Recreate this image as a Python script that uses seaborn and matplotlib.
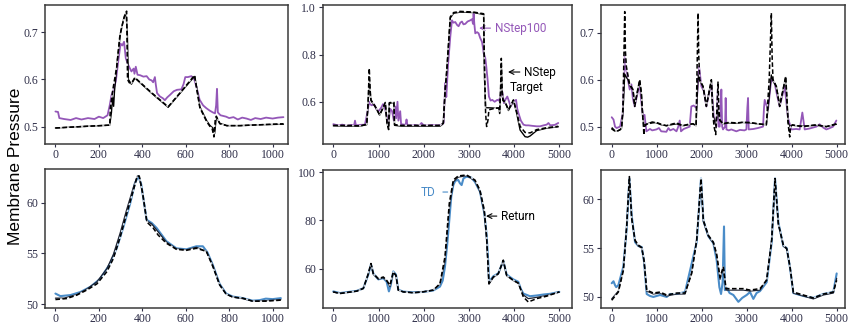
import matplotlib
matplotlib.use('Agg')
import matplotlib.pyplot as plt
import seaborn as sns

# ---- data ----
# top-left: short episode, pressure
tl_true_x = [0, 120, 250, 253, 265, 282, 296, 310, 320, 328, 332, 340, 350, 366, 440, 519, 580, 641, 651, 665, 697, 712, 722, 730, 736, 741, 757, 789, 850, 950, 1050]
tl_true_y = [0.497, 0.500, 0.503, 0.540, 0.580, 0.626, 0.690, 0.720, 0.738, 0.745, 0.600, 0.593, 0.592, 0.604, 0.573, 0.542, 0.575, 0.609, 0.578, 0.540, 0.510, 0.500, 0.495, 0.478, 0.515, 0.522, 0.506, 0.502, 0.502, 0.504, 0.506]
tl_tgt_x = [0, 120, 250, 258, 263, 268, 272, 285, 300, 315, 325, 331, 336, 350, 366, 440, 519, 580, 641, 652, 665, 697, 712, 725, 733, 741, 757, 789, 850, 950, 1050]
tl_tgt_y = [0.497, 0.500, 0.503, 0.530, 0.563, 0.543, 0.575, 0.640, 0.700, 0.730, 0.742, 0.700, 0.600, 0.590, 0.603, 0.572, 0.541, 0.574, 0.607, 0.580, 0.542, 0.512, 0.502, 0.497, 0.485, 0.520, 0.507, 0.502, 0.502, 0.504, 0.505]
tl_ns_x = [0, 12, 18, 40, 70, 95, 120, 150, 180, 200, 220, 240, 250, 258, 268, 278, 290, 300, 308, 316, 324, 336, 350, 360, 364, 370, 378, 390, 405, 420, 432, 443, 450, 458, 462, 468, 481, 495, 504, 515, 527, 545, 560, 580, 590, 598, 610, 626, 638, 649, 664, 680, 695, 710, 725, 735, 740, 744, 748, 760, 786, 800, 820, 840, 860, 880, 900, 920, 945, 970, 1000, 1025, 1050]
tl_ns_y = [0.532, 0.531, 0.518, 0.516, 0.514, 0.518, 0.515, 0.518, 0.516, 0.521, 0.518, 0.524, 0.545, 0.566, 0.580, 0.596, 0.641, 0.676, 0.672, 0.680, 0.645, 0.630, 0.617, 0.623, 0.612, 0.627, 0.610, 0.609, 0.606, 0.607, 0.600, 0.598, 0.594, 0.605, 0.590, 0.571, 0.564, 0.560, 0.556, 0.562, 0.567, 0.575, 0.578, 0.579, 0.590, 0.605, 0.605, 0.607, 0.602, 0.585, 0.557, 0.545, 0.539, 0.534, 0.530, 0.528, 0.545, 0.580, 0.530, 0.524, 0.521, 0.518, 0.520, 0.515, 0.519, 0.517, 0.514, 0.518, 0.516, 0.519, 0.517, 0.519, 0.520]

# top-middle
tm_true_x = [0, 300, 600, 740, 770, 796, 815, 833, 929, 1025, 1100, 1150, 1187, 1224, 1240, 1320, 1340, 1355, 1500, 2000, 2367, 2434, 2470, 2515, 2588, 2662, 2810, 3104, 3326, 3340, 3370, 3392, 3420, 3443, 3591, 3665, 3680, 3700, 3717, 3735, 3753, 3800, 3875, 3985, 4044, 4133, 4243, 4354, 4500, 4720, 4977]
tm_true_y = [0.500, 0.500, 0.498, 0.505, 0.600, 0.742, 0.650, 0.608, 0.580, 0.545, 0.575, 0.597, 0.512, 0.482, 0.596, 0.598, 0.598, 0.503, 0.500, 0.500, 0.500, 0.510, 0.640, 0.749, 0.960, 0.978, 0.983, 0.980, 0.973, 0.800, 0.550, 0.495, 0.520, 0.566, 0.573, 0.573, 0.560, 0.650, 0.784, 0.650, 0.608, 0.600, 0.566, 0.608, 0.566, 0.496, 0.470, 0.468, 0.482, 0.490, 0.496]
tm_tgt_x = [0, 300, 600, 740, 770, 796, 815, 833, 929, 1025, 1100, 1150, 1187, 1224, 1240, 1320, 1340, 1355, 1500, 2000, 2367, 2434, 2470, 2515, 2588, 2662, 2810, 3104, 3326, 3345, 3370, 3600, 3665, 3680, 3700, 3717, 3735, 3753, 3800, 3875, 3985, 4044, 4133, 4243, 4300, 4354, 4500, 4720, 4977]
tm_tgt_y = [0.498, 0.497, 0.497, 0.503, 0.590, 0.700, 0.640, 0.605, 0.578, 0.543, 0.573, 0.595, 0.510, 0.485, 0.594, 0.596, 0.596, 0.500, 0.497, 0.497, 0.497, 0.508, 0.630, 0.740, 0.955, 0.975, 0.980, 0.978, 0.970, 0.700, 0.575, 0.573, 0.574, 0.550, 0.640, 0.760, 0.640, 0.605, 0.598, 0.563, 0.605, 0.563, 0.480, 0.452, 0.450, 0.455, 0.478, 0.488, 0.494]
tm_ns_x = [0, 100, 200, 300, 400, 460, 480, 500, 600, 700, 760, 790, 810, 850, 900, 950, 1000, 1060, 1100, 1140, 1180, 1220, 1260, 1300, 1340, 1370, 1390, 1420, 1440, 1480, 1500, 1600, 1620, 1640, 1750, 1800, 1900, 1950, 2000, 2100, 2200, 2300, 2400, 2440, 2478, 2500, 2540, 2588, 2625, 2660, 2698, 2740, 2772, 2810, 2846, 2880, 2920, 2970, 3030, 3070, 3090, 3104, 3120, 3141, 3180, 3215, 3250, 3289, 3310, 3326, 3363, 3385, 3414, 3443, 3480, 3517, 3570, 3628, 3660, 3702, 3722, 3740, 3776, 3810, 3850, 3890, 3924, 3980, 4044, 4070, 4096, 4150, 4207, 4260, 4317, 4400, 4500, 4575, 4650, 4720, 4760, 4800, 4900, 4977]
tm_ns_y = [0.505, 0.500, 0.503, 0.498, 0.502, 0.500, 0.520, 0.500, 0.502, 0.503, 0.560, 0.600, 0.590, 0.585, 0.590, 0.570, 0.560, 0.575, 0.590, 0.575, 0.540, 0.510, 0.570, 0.560, 0.520, 0.580, 0.530, 0.600, 0.520, 0.560, 0.505, 0.502, 0.525, 0.500, 0.500, 0.502, 0.498, 0.510, 0.500, 0.500, 0.502, 0.500, 0.503, 0.510, 0.680, 0.620, 0.760, 0.875, 0.945, 0.935, 0.938, 0.925, 0.920, 0.935, 0.940, 0.928, 0.930, 0.940, 0.945, 0.950, 0.930, 0.973, 0.930, 0.890, 0.895, 0.890, 0.870, 0.854, 0.830, 0.806, 0.785, 0.749, 0.693, 0.622, 0.605, 0.608, 0.600, 0.608, 0.605, 0.622, 0.655, 0.640, 0.594, 0.610, 0.622, 0.600, 0.580, 0.600, 0.608, 0.570, 0.552, 0.520, 0.503, 0.500, 0.500, 0.498, 0.496, 0.496, 0.500, 0.503, 0.510, 0.500, 0.502, 0.510]

# top-right
tr_true_x = [0, 60, 110, 180, 220, 250, 289, 305, 326, 363, 400, 474, 511, 560, 622, 659, 690, 705, 715, 730, 770, 900, 993, 1100, 1215, 1437, 1585, 1700, 1807, 1875, 1919, 1935, 1956, 2030, 2104, 2215, 2252, 2275, 2311, 2340, 2363, 2380, 2400, 2474, 2600, 2770, 2900, 3067, 3250, 3437, 3500, 3548, 3565, 3585, 3659, 3733, 3800, 3867, 3895, 3919, 3940, 3956, 3975, 4015, 4100, 4252, 4400, 4548, 4770, 4993]
tr_true_y = [0.498, 0.492, 0.490, 0.493, 0.497, 0.540, 0.745, 0.660, 0.628, 0.608, 0.590, 0.579, 0.543, 0.570, 0.600, 0.572, 0.520, 0.500, 0.482, 0.500, 0.505, 0.508, 0.509, 0.505, 0.502, 0.508, 0.502, 0.505, 0.506, 0.502, 0.742, 0.650, 0.600, 0.586, 0.543, 0.600, 0.522, 0.500, 0.483, 0.540, 0.596, 0.540, 0.515, 0.506, 0.509, 0.508, 0.509, 0.509, 0.506, 0.504, 0.600, 0.742, 0.650, 0.600, 0.586, 0.543, 0.575, 0.607, 0.560, 0.508, 0.490, 0.478, 0.500, 0.504, 0.502, 0.500, 0.502, 0.504, 0.500, 0.506]
tr_tgt_x = [0, 60, 110, 180, 220, 250, 289, 326, 363, 400, 474, 511, 560, 622, 659, 690, 715, 770, 900, 993, 1100, 1215, 1437, 1585, 1700, 1807, 1875, 1919, 1956, 2030, 2104, 2215, 2252, 2311, 2363, 2400, 2474, 2600, 2770, 2900, 3067, 3250, 3437, 3548, 3585, 3659, 3733, 3867, 3919, 3956, 4015, 4100, 4252, 4400, 4548, 4770, 4993]
tr_tgt_y = [0.495, 0.491, 0.490, 0.493, 0.497, 0.530, 0.612, 0.605, 0.600, 0.588, 0.578, 0.544, 0.568, 0.598, 0.570, 0.520, 0.503, 0.505, 0.510, 0.508, 0.504, 0.502, 0.506, 0.502, 0.504, 0.506, 0.502, 0.610, 0.598, 0.585, 0.545, 0.598, 0.524, 0.503, 0.540, 0.513, 0.506, 0.508, 0.507, 0.509, 0.508, 0.506, 0.504, 0.610, 0.598, 0.585, 0.545, 0.605, 0.510, 0.500, 0.503, 0.502, 0.501, 0.502, 0.503, 0.500, 0.505]
tr_ns_x = [0, 40, 74, 110, 185, 244, 289, 310, 341, 370, 400, 437, 470, 511, 560, 622, 650, 696, 730, 770, 850, 900, 993, 1050, 1100, 1215, 1260, 1300, 1370, 1440, 1480, 1511, 1540, 1600, 1680, 1733, 1770, 1820, 1881, 1941, 1993, 2050, 2104, 2160, 2215, 2267, 2326, 2350, 2363, 2380, 2400, 2420, 2437, 2455, 2474, 2520, 2533, 2550, 2600, 2659, 2770, 2850, 2950, 2993, 3015, 3030, 3045, 3150, 3250, 3363, 3385, 3400, 3474, 3548, 3622, 3680, 3733, 3790, 3844, 3919, 3993, 4100, 4178, 4237, 4289, 4400, 4548, 4620, 4700, 4770, 4850, 4920, 4993]
tr_ns_y = [0.520, 0.515, 0.500, 0.497, 0.500, 0.527, 0.650, 0.625, 0.614, 0.595, 0.579, 0.590, 0.560, 0.543, 0.565, 0.592, 0.560, 0.522, 0.525, 0.490, 0.495, 0.492, 0.494, 0.497, 0.490, 0.489, 0.497, 0.492, 0.495, 0.490, 0.500, 0.513, 0.490, 0.495, 0.498, 0.500, 0.543, 0.545, 0.540, 0.628, 0.586, 0.575, 0.543, 0.570, 0.592, 0.522, 0.500, 0.560, 0.586, 0.500, 0.500, 0.540, 0.579, 0.500, 0.494, 0.500, 0.561, 0.494, 0.492, 0.494, 0.490, 0.493, 0.492, 0.494, 0.540, 0.561, 0.494, 0.495, 0.497, 0.500, 0.540, 0.557, 0.536, 0.603, 0.592, 0.565, 0.543, 0.565, 0.586, 0.518, 0.494, 0.495, 0.494, 0.530, 0.494, 0.496, 0.500, 0.505, 0.498, 0.494, 0.497, 0.500, 0.513]

# bottom-left: short episode, membrane
bl_true_x = [0, 53, 99, 145, 191, 237, 267, 298, 328, 359, 377, 386, 402, 420, 427, 450, 473, 511, 557, 603, 649, 695, 725, 756, 786, 817, 863, 908, 969, 1038]
bl_true_y = [50.46, 50.56, 50.9, 51.4, 52.0, 53.2, 54.5, 56.6, 58.9, 61.2, 62.6, 62.6, 60.9, 58.3, 57.96, 57.5, 56.8, 56.0, 55.4, 55.3, 55.5, 55.2, 53.7, 51.9, 51.0, 50.7, 50.6, 50.3, 50.3, 50.4]
bl_ret_x = [0, 40, 99, 145, 191, 237, 267, 298, 328, 359, 377, 386, 402, 420, 443, 466, 511, 557, 603, 649, 695, 725, 756, 786, 817, 863, 908, 969, 1038]
bl_ret_y = [50.6, 50.6, 50.95, 51.5, 52.2, 53.5, 54.9, 57.0, 59.3, 61.5, 62.6, 62.6, 60.8, 58.2, 57.9, 57.3, 56.1, 55.45, 55.35, 55.6, 55.2, 53.8, 51.95, 51.0, 50.7, 50.55, 50.3, 50.35, 50.45]
bl_td_x = [0, 23, 69, 115, 160, 206, 252, 282, 313, 344, 366, 382, 395, 420, 443, 466, 511, 557, 603, 649, 679, 700, 725, 756, 786, 817, 863, 908, 940, 969, 1000, 1038]
bl_td_y = [51.05, 50.8, 50.9, 51.2, 51.7, 52.5, 54.0, 55.5, 57.6, 59.9, 61.9, 62.6, 61.8, 58.3, 58.0, 57.5, 56.2, 55.5, 55.4, 55.7, 55.7, 55.1, 53.85, 52.0, 51.05, 50.75, 50.6, 50.35, 50.4, 50.55, 50.5, 50.6]

# bottom-middle
bm_true_x = [0, 147, 516, 664, 774, 833, 885, 996, 1106, 1180, 1254, 1327, 1386, 1438, 1549, 1770, 1991, 2212, 2360, 2470, 2566, 2655, 2765, 2950, 3134, 3245, 3341, 3392, 3444, 3540, 3650, 3761, 3835, 3982, 4093, 4204, 4314, 4499, 4720, 5000]
bm_true_y = [50.3, 49.6, 50.6, 51.7, 57.9, 62.1, 57.9, 55.8, 56.5, 55.1, 53.1, 58.6, 57.2, 51.0, 50.3, 49.9, 50.3, 51.0, 53.75, 64.9, 87.1, 96.8, 98.5, 98.9, 96.8, 92.6, 84.3, 73.2, 53.75, 56.5, 57.9, 63.5, 57.2, 55.1, 54.0, 48.2, 46.1, 47.5, 48.5, 50.3]
bm_ret_y = [50.2, 49.7, 50.6, 51.8, 57.6, 62.0, 57.6, 55.6, 56.2, 54.9, 52.5, 58.3, 57.0, 51.0, 50.3, 50.0, 50.4, 51.1, 53.5, 63.0, 85.0, 96.0, 98.0, 98.6, 96.5, 92.0, 83.0, 72.0, 53.5, 56.3, 57.7, 63.2, 57.0, 55.0, 53.8, 49.0, 47.5, 48.0, 48.8, 50.2]
bm_td_x = [0, 147, 516, 664, 774, 833, 885, 996, 1106, 1180, 1230, 1270, 1327, 1386, 1438, 1549, 1770, 1991, 2212, 2360, 2420, 2470, 2520, 2566, 2610, 2655, 2700, 2765, 2800, 2839, 2880, 2950, 3050, 3134, 3245, 3341, 3392, 3430, 3444, 3540, 3650, 3761, 3835, 3982, 4093, 4150, 4204, 4351, 4500, 4646, 4800, 5000]
bm_td_y = [50.5, 49.8, 50.7, 51.8, 57.5, 61.8, 58.0, 55.5, 56.0, 54.5, 50.5, 53.0, 58.8, 57.5, 51.2, 50.4, 50.1, 50.3, 50.9, 52.5, 55.0, 60.7, 70.0, 80.1, 90.0, 94.7, 96.5, 96.8, 95.5, 94.7, 97.5, 98.2, 97.8, 96.0, 92.0, 83.0, 74.0, 62.0, 54.5, 56.8, 58.0, 63.2, 57.5, 55.5, 54.5, 51.5, 49.6, 48.5, 48.8, 49.2, 49.5, 50.3]

# bottom-right
br_true_x = [0, 148, 259, 333, 393, 444, 519, 593, 667, 719, 778, 926, 1074, 1222, 1444, 1630, 1778, 1889, 1985, 2037, 2148, 2259, 2333, 2407, 2481, 2541, 2704, 2926, 3074, 3296, 3444, 3556, 3630, 3704, 3815, 3889, 3963, 4037, 4259, 4481, 4704, 4926, 5000]
br_true_y = [49.66, 50.5, 52.7, 57.2, 62.3, 58.0, 55.8, 55.3, 55.05, 53.75, 50.7, 50.4, 50.5, 50.2, 50.4, 50.4, 52.4, 55.8, 62.1, 57.85, 56.3, 55.6, 54.4, 52.0, 53.1, 50.85, 50.85, 50.85, 50.7, 50.85, 51.7, 55.8, 62.1, 57.5, 55.3, 54.95, 53.1, 50.5, 50.2, 49.9, 50.3, 50.5, 51.7]
br_ret_y = [49.8, 50.6, 52.8, 57.3, 62.2, 58.1, 55.7, 55.2, 55.0, 53.6, 50.6, 50.3, 50.4, 50.1, 50.3, 50.3, 52.5, 55.9, 62.0, 57.7, 56.2, 55.5, 54.2, 51.8, 53.0, 50.7, 50.7, 50.7, 50.6, 50.7, 51.8, 55.9, 62.0, 57.4, 55.2, 54.9, 53.0, 50.4, 50.1, 49.8, 50.2, 50.4, 51.9]
br_td_x = [0, 40, 74, 100, 148, 259, 333, 393, 444, 519, 593, 667, 719, 778, 850, 926, 1074, 1222, 1300, 1444, 1630, 1741, 1889, 1985, 2037, 2148, 2259, 2333, 2393, 2430, 2465, 2496, 2515, 2560, 2620, 2704, 2815, 2900, 3000, 3074, 3148, 3220, 3296, 3444, 3556, 3630, 3704, 3815, 3889, 3963, 4037, 4259, 4481, 4704, 4926, 5000]
br_td_y = [51.4, 51.6, 51.2, 51.0, 51.2, 53.1, 57.0, 62.1, 58.3, 55.6, 55.2, 55.1, 53.6, 50.3, 50.1, 50.0, 50.2, 50.0, 50.3, 50.3, 50.5, 52.7, 55.6, 62.1, 57.8, 56.2, 55.5, 53.75, 51.0, 50.3, 51.5, 57.2, 50.7, 50.9, 50.4, 50.2, 49.5, 49.9, 50.2, 50.5, 49.8, 50.4, 50.6, 51.5, 55.6, 62.1, 57.6, 55.2, 55.0, 53.0, 50.4, 50.1, 49.9, 50.3, 50.5, 52.4]

short_ticks = [0, 200, 400, 600, 800, 1000]
long_ticks = [0, 1000, 2000, 3000, 4000, 5000]

purple = '#9457b8'
blue = '#4a8cc8'
ink = '#2e2e48'

sns.set_style('ticks')
plt.rcParams['font.family'] = ['Liberation Serif', 'DejaVu Serif']

fig = plt.figure(figsize=(8.49, 3.24), dpi=100)
W, H = 849.0, 324.0


def make_ax(left, right, top, bottom):
    return fig.add_axes([left / W, 1 - bottom / H, (right - left) / W, (bottom - top) / H])


def line(ax, x, y, color, lw=1.1, z=2):
    sns.lineplot(x=x, y=y, ax=ax, color=color, linewidth=lw,
                 estimator=None, sort=False, zorder=z)


def dashed(ax, x, y):
    # black dashes with pale gaps, drawn on top of the other lines
    sns.lineplot(x=x, y=y, ax=ax, color='black', linestyle=(0, (3, 1.6)),
                 gapcolor=(1, 1, 1, 0.75), linewidth=1.1,
                 estimator=None, sort=False, zorder=4)


def style(ax, xlim, ylim, xticks, yticks, ylabels):
    ax.set_xlim(*xlim)
    ax.set_ylim(*ylim)
    ax.set_xticks(xticks)
    ax.set_yticks(yticks)
    ax.set_yticklabels(ylabels)
    ax.set_xlabel('')
    ax.set_ylabel('')
    ax.tick_params(labelsize=8.5, colors=ink, length=3, width=0.8, pad=2)
    ax.tick_params(axis='x', length=2.5, pad=1)
    for s in ax.spines.values():
        s.set_color('#3a3a3a')
        s.set_linewidth(1.1)


ax1 = make_ax(45, 288, 5, 144)
line(ax1, tl_ns_x, tl_ns_y, purple, lw=1.3)
line(ax1, tl_tgt_x, tl_tgt_y, 'black', lw=1.0, z=3)
dashed(ax1, tl_true_x, tl_true_y)
style(ax1, (-48, 1071), (0.463, 0.758), short_ticks, [0.5, 0.6, 0.7], ['0.5', '0.6', '0.7'])

ax2 = make_ax(323, 572, 5, 144)
line(ax2, tm_ns_x, tm_ns_y, purple, lw=1.3)
line(ax2, tm_tgt_x, tm_tgt_y, 'black', lw=1.0, z=3)
dashed(ax2, tm_true_x, tm_true_y)
style(ax2, (-228, 5281), (0.421, 1.01), long_ticks, [0.6, 0.8, 1.0], ['0.6', '0.8', '1.0'])
ax2.annotate('NStep100', xy=(3226, 0.912), xytext=(3580, 0.912), color=purple,
             fontsize=8.5, family='Roboto', va='center', ha='left',
             arrowprops=dict(arrowstyle='->', color=purple, lw=0.8, shrinkA=1, shrinkB=0))
ax2.annotate('NStep', xy=(3865, 0.726), xytext=(4230, 0.726), color='black',
             fontsize=8.5, family='Roboto', va='center', ha='left',
             arrowprops=dict(arrowstyle='->', color='black', lw=0.8, shrinkA=1, shrinkB=0))
ax2.text(3909, 0.662, 'Target', color='black', fontsize=8.5, family='Roboto', va='center', ha='left')

ax3 = make_ax(601, 845, 5, 144)
line(ax3, tr_ns_x, tr_ns_y, purple, lw=1.3)
line(ax3, tr_tgt_x, tr_tgt_y, 'black', lw=1.0, z=3)
dashed(ax3, tr_true_x, tr_true_y)
style(ax3, (-238, 5185), (0.463, 0.759), long_ticks, [0.5, 0.6, 0.7], ['0.5', '0.6', '0.7'])

ax4 = make_ax(45, 288, 169, 308)
line(ax4, bl_td_x, bl_td_y, blue, lw=1.5)
line(ax4, bl_ret_x, bl_ret_y, '#1a2030', lw=0.9, z=3)
dashed(ax4, bl_true_x, bl_true_y)
style(ax4, (-48, 1071), (49.63, 63.3), short_ticks, [50, 55, 60], ['50', '55', '60'])

ax5 = make_ax(323, 572, 170, 308)
line(ax5, bm_td_x, bm_td_y, blue, lw=1.5)
line(ax5, bm_true_x, bm_ret_y, '#1a2030', lw=0.9, z=3)
dashed(ax5, bm_true_x, bm_true_y)
style(ax5, (-228, 5281), (43.6, 100.96), long_ticks, [60, 80, 100], ['60', '80', '100'])
ax5.annotate('TD', xy=(2530, 91.8), xytext=(2260, 91.8), color=blue,
             fontsize=8.5, family='Roboto', va='center', ha='right',
             arrowprops=dict(arrowstyle='-', color=blue, lw=0.8, shrinkA=3, shrinkB=0))
ax5.annotate('Return', xy=(3378, 81.8), xytext=(3720, 81.8), color='black',
             fontsize=8.5, family='Roboto', va='center', ha='left',
             arrowprops=dict(arrowstyle='->', color='black', lw=0.8, shrinkA=1, shrinkB=0))

ax6 = make_ax(601, 845, 170, 308)
line(ax6, br_td_x, br_td_y, blue, lw=1.5)
line(ax6, br_true_x, br_ret_y, '#1a2030', lw=0.9, z=3)
dashed(ax6, br_true_x, br_true_y)
style(ax6, (-238, 5185), (48.87, 62.97), long_ticks, [50, 55, 60], ['50', '55', '60'])

fig.text(16 / W, 1 - 166 / H, 'Membrane Pressure', rotation=90, va='center', ha='center',
         fontsize=12.5, family='Liberation Sans', color='black')

fig.savefig('out.png', dpi=100)
